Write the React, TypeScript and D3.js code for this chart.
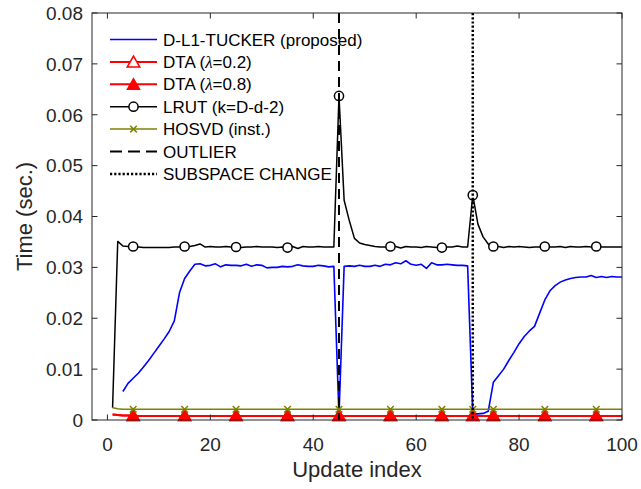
import React from 'react';
import * as d3 from 'd3';

// ---------- data ----------
const updateIndex: number[] = d3.range(1, 101);
const markerIndex = [5, 15, 25, 35, 45, 55, 65, 71, 75, 85, 95];
const outlierAt = 45;
const subspaceChangeAt = 71;

const dl1Tucker: (number | null)[] = [
  null, null, 0.0056, 0.0072, 0.0082, 0.0092, 0.0104, 0.0117, 0.0131, 0.0145,
  0.0159, 0.0174, 0.0195, 0.0250, 0.0278, 0.0293, 0.0306, 0.0307, 0.0303, 0.0304,
  0.0307, 0.0301, 0.0305, 0.0304, 0.0304, 0.0303, 0.0306, 0.0302, 0.0305, 0.0304,
  0.0299, 0.0300, 0.0300, 0.0302, 0.0301, 0.0302, 0.0305, 0.0303, 0.0302, 0.0302,
  0.0304, 0.0303, 0.0301, 0.0302, 0.0008, 0.0302, 0.0303, 0.0302, 0.0304, 0.0302,
  0.0302, 0.0304, 0.0302, 0.0306, 0.0305, 0.0309, 0.0307, 0.0313, 0.0306, 0.0304,
  0.0306, 0.0298, 0.0309, 0.0305, 0.0305, 0.0306, 0.0305, 0.0304, 0.0304, 0.0303,
  0.0012, 0.0012, 0.0013, 0.0017, 0.0074, 0.0087, 0.0100, 0.0117, 0.0133, 0.0150,
  0.0164, 0.0175, 0.0184, 0.0210, 0.0236, 0.0254, 0.0264, 0.0271, 0.0275, 0.0278,
  0.0280, 0.0281, 0.0281, 0.0284, 0.0280, 0.0282, 0.0280, 0.0282, 0.0281, 0.0281,
];

const dta02: number[] = [
  0.0011, 0.0010, 0.0009, 0.0009, 0.0008, 0.0008, 0.0008, 0.0008, 0.0008, 0.0008,
  0.0008, 0.0008, 0.0008, 0.0008, 0.0008, 0.0008, 0.0008, 0.0008, 0.0008, 0.0008,
  0.0008, 0.0008, 0.0008, 0.0008, 0.0008, 0.0008, 0.0008, 0.0008, 0.0008, 0.0008,
  0.0008, 0.0008, 0.0008, 0.0008, 0.0008, 0.0008, 0.0008, 0.0008, 0.0008, 0.0008,
  0.0008, 0.0008, 0.0008, 0.0008, 0.0008, 0.0008, 0.0008, 0.0008, 0.0008, 0.0008,
  0.0008, 0.0008, 0.0008, 0.0008, 0.0008, 0.0008, 0.0008, 0.0008, 0.0008, 0.0008,
  0.0008, 0.0008, 0.0008, 0.0008, 0.0008, 0.0008, 0.0008, 0.0008, 0.0008, 0.0008,
  0.0008, 0.0008, 0.0008, 0.0008, 0.0008, 0.0008, 0.0008, 0.0008, 0.0008, 0.0008,
  0.0008, 0.0008, 0.0008, 0.0008, 0.0008, 0.0008, 0.0008, 0.0008, 0.0008, 0.0008,
  0.0008, 0.0008, 0.0008, 0.0008, 0.0008, 0.0008, 0.0008, 0.0008, 0.0008, 0.0008,
];

const dta08: number[] = [
  0.0011, 0.0010, 0.0009, 0.0009, 0.0008, 0.0008, 0.0008, 0.0008, 0.0008, 0.0008,
  0.0008, 0.0008, 0.0008, 0.0008, 0.0008, 0.0008, 0.0008, 0.0008, 0.0008, 0.0008,
  0.0008, 0.0008, 0.0008, 0.0008, 0.0008, 0.0008, 0.0008, 0.0008, 0.0008, 0.0008,
  0.0008, 0.0008, 0.0008, 0.0008, 0.0008, 0.0008, 0.0008, 0.0008, 0.0008, 0.0008,
  0.0008, 0.0008, 0.0008, 0.0008, 0.0008, 0.0008, 0.0008, 0.0008, 0.0008, 0.0008,
  0.0008, 0.0008, 0.0008, 0.0008, 0.0008, 0.0008, 0.0008, 0.0008, 0.0008, 0.0008,
  0.0008, 0.0008, 0.0008, 0.0008, 0.0008, 0.0008, 0.0008, 0.0008, 0.0008, 0.0008,
  0.0008, 0.0008, 0.0008, 0.0008, 0.0008, 0.0008, 0.0008, 0.0008, 0.0008, 0.0008,
  0.0008, 0.0008, 0.0008, 0.0008, 0.0008, 0.0008, 0.0008, 0.0008, 0.0008, 0.0008,
  0.0008, 0.0008, 0.0008, 0.0008, 0.0008, 0.0008, 0.0008, 0.0008, 0.0008, 0.0008,
];

const lrut: number[] = [
  0.0024, 0.0351, 0.0342, 0.0341, 0.0341, 0.0340, 0.0339, 0.0339, 0.0339, 0.0339,
  0.0339, 0.0339, 0.0340, 0.0340, 0.0341, 0.0341, 0.0343, 0.0346, 0.0340, 0.0341,
  0.0340, 0.0340, 0.0341, 0.0340, 0.0340, 0.0339, 0.0340, 0.0340, 0.0341, 0.0340,
  0.0340, 0.0340, 0.0339, 0.0340, 0.0339, 0.0341, 0.0337, 0.0341, 0.0340, 0.0340,
  0.0341, 0.0340, 0.0340, 0.0340, 0.0637, 0.0432, 0.0392, 0.0357, 0.0348, 0.0345,
  0.0343, 0.0341, 0.0340, 0.0340, 0.0341, 0.0341, 0.0338, 0.0341, 0.0340, 0.0340,
  0.0339, 0.0341, 0.0340, 0.0339, 0.0339, 0.0340, 0.0340, 0.0342, 0.0340, 0.0340,
  0.0442, 0.0385, 0.0360, 0.0346, 0.0341, 0.0341, 0.0339, 0.0341, 0.0340, 0.0341,
  0.0340, 0.0339, 0.0340, 0.0340, 0.0341, 0.0340, 0.0340, 0.0341, 0.0339, 0.0341,
  0.0340, 0.0340, 0.0341, 0.0340, 0.0341, 0.0340, 0.0340, 0.0340, 0.0340, 0.0340,
];

const hosvd: number[] = [
  0.0024, 0.0022, 0.0021, 0.0021, 0.0021, 0.0021, 0.0021, 0.0021, 0.0021, 0.0021,
  0.0021, 0.0021, 0.0021, 0.0021, 0.0021, 0.0021, 0.0021, 0.0021, 0.0021, 0.0021,
  0.0021, 0.0021, 0.0021, 0.0021, 0.0021, 0.0021, 0.0021, 0.0021, 0.0021, 0.0021,
  0.0021, 0.0021, 0.0021, 0.0021, 0.0021, 0.0021, 0.0021, 0.0021, 0.0021, 0.0021,
  0.0021, 0.0021, 0.0021, 0.0021, 0.0021, 0.0021, 0.0021, 0.0021, 0.0021, 0.0021,
  0.0021, 0.0021, 0.0021, 0.0021, 0.0021, 0.0021, 0.0021, 0.0021, 0.0021, 0.0021,
  0.0021, 0.0021, 0.0021, 0.0021, 0.0021, 0.0021, 0.0021, 0.0021, 0.0021, 0.0021,
  0.0021, 0.0021, 0.0021, 0.0021, 0.0021, 0.0021, 0.0021, 0.0021, 0.0021, 0.0021,
  0.0021, 0.0021, 0.0021, 0.0021, 0.0021, 0.0021, 0.0021, 0.0021, 0.0021, 0.0021,
  0.0021, 0.0021, 0.0021, 0.0021, 0.0021, 0.0021, 0.0021, 0.0021, 0.0021, 0.0021,
];

const xTicks = [0, 20, 40, 60, 80, 100];
const yTicks = [0, 0.01, 0.02, 0.03, 0.04, 0.05, 0.06, 0.07, 0.08];
const xDomain: [number, number] = [-3, 100];
const yDomain: [number, number] = [0, 0.08];

// ---------- layout ----------
const W = 641;
const H = 489;
const L = 92, R = 622, T = 13, B = 420;
const AX = '#262626';
const FONT = '"Liberation Sans", Arial, Helvetica, sans-serif';
const BLUE = '#0000ff';
const RED = '#ff0000';
const OLIVE = '#808000';

const x = d3.scaleLinear().domain(xDomain).range([L, R]);
const y = d3.scaleLinear().domain(yDomain).range([B, T]);

function pathOf(values: (number | null)[]) {
  const line = d3
    .line<number>()
    .defined((i) => values[i] !== null && values[i] !== undefined)
    .x((i) => x(updateIndex[i]))
    .y((i) => y(values[i] as number));
  return line(d3.range(values.length)) || '';
}

const tri = (cx: number, cy: number, s = 1) =>
  `M${cx},${cy - 6.3 * s}L${cx + 6.3 * s},${cy + 4.6 * s}L${cx - 6.3 * s},${cy + 4.6 * s}Z`;

function Cross({ cx, cy }: { cx: number; cy: number }) {
  const r = 3.3;
  return (
    <g stroke={OLIVE} strokeWidth={1.5}>
      <line x1={cx - r} y1={cy - r} x2={cx + r} y2={cy + r} />
      <line x1={cx - r} y1={cy + r} x2={cx + r} y2={cy - r} />
    </g>
  );
}

const Lam = () => (
  <tspan fontFamily='"Liberation Serif", "Times New Roman", serif' fontStyle="italic">
    λ
  </tspan>
);

export default function App() {
  const mx = (i: number) => x(i);
  const valAt = (arr: (number | null)[], i: number) => arr[updateIndex.indexOf(i)] as number;

  const legendX1 = 110, legendX2 = 157, legendTx = 163, legendY0 = 39.5, legendDy = 22.4;
  const lmx = (legendX1 + legendX2) / 2;

  return (
    <svg
      width={W}
      height={H}
      style={{ position: 'absolute', left: 0, top: 0, background: '#fff' }}
      fontFamily={FONT}
    >
      <defs>
        <clipPath id="plotClip">
          <rect x={L} y={T} width={R - L} height={B - T} />
        </clipPath>
      </defs>
      <rect x={0} y={0} width={W} height={H} fill="#fff" />

      {/* data lines */}
      <g clipPath="url(#plotClip)" fill="none" strokeLinejoin="round">
        <path d={pathOf(dl1Tucker)} stroke={BLUE} strokeWidth={1.6} />
        <path d={pathOf(dta02)} stroke={RED} strokeWidth={2} />
        <path d={pathOf(dta08)} stroke={RED} strokeWidth={2} />
        <path d={pathOf(lrut)} stroke="#000" strokeWidth={1.5} />
        <path d={pathOf(hosvd)} stroke={OLIVE} strokeWidth={1.5} />
      </g>

      {/* markers */}
      <g>
        {markerIndex.map((i) => (
          <path key={'a' + i} d={tri(mx(i), y(valAt(dta02, i)))} fill="#fff" stroke={RED} strokeWidth={1.2} />
        ))}
        {markerIndex.map((i) => (
          <path key={'b' + i} d={tri(mx(i), y(valAt(dta08, i)))} fill={RED} stroke={RED} strokeWidth={1.2} />
        ))}
        {markerIndex.map((i) => (
          <circle key={'c' + i} cx={mx(i)} cy={y(valAt(lrut, i))} r={4.6} fill="#fff" stroke="#000" strokeWidth={1.5} />
        ))}
        {markerIndex.map((i) => (
          <Cross key={'d' + i} cx={mx(i)} cy={y(valAt(hosvd, i))} />
        ))}
      </g>

      {/* event lines */}
      <line x1={x(outlierAt)} x2={x(outlierAt)} y1={T} y2={B} stroke="#000" strokeWidth={2} strokeDasharray="10,6" />
      <line x1={x(subspaceChangeAt)} x2={x(subspaceChangeAt)} y1={T} y2={B} stroke="#000" strokeWidth={2.5} strokeDasharray="2.2,2" />

      {/* axes box */}
      <rect x={L} y={T} width={R - L} height={B - T} fill="none" stroke={AX} strokeWidth={1} />
      <g stroke={AX} strokeWidth={1}>
        {xTicks.map((t) => (
          <g key={'xt' + t}>
            <line x1={x(t)} x2={x(t)} y1={B} y2={B - 5.5} />
            <line x1={x(t)} x2={x(t)} y1={T} y2={T + 5.5} />
          </g>
        ))}
        {yTicks.map((t) => (
          <g key={'yt' + t}>
            <line x1={L} x2={L + 5.5} y1={y(t)} y2={y(t)} />
            <line x1={R} x2={R - 5.5} y1={y(t)} y2={y(t)} />
          </g>
        ))}
      </g>
      <g fill={AX} fontSize={19}>
        {xTicks.map((t) => (
          <text key={'xl' + t} x={x(t)} y={B + 30.5} textAnchor="middle">
            {t}
          </text>
        ))}
        {yTicks.map((t) => (
          <text key={'yl' + t} x={L - 9} y={y(t)} dy="0.36em" textAnchor="end">
            {t === 0 ? '0' : t.toFixed(2)}
          </text>
        ))}
      </g>
      <text x={(L + R) / 2} y={477} textAnchor="middle" fontSize={22} fill={AX}>
        Update index
      </text>
      <text
        transform={`translate(32,${(T + B) / 2}) rotate(-90)`}
        textAnchor="middle"
        fontSize={22}
        fill={AX}
      >
        Time (sec.)
      </text>

      {/* legend */}
      <g fontSize={17} fill="#000">
        {/* 1 */}
        <line x1={legendX1} x2={legendX2} y1={legendY0} y2={legendY0} stroke={BLUE} strokeWidth={1.6} />
        <text x={legendTx} y={legendY0} dy="0.36em">D-L1-TUCKER (proposed)</text>
        {/* 2 */}
        <line x1={legendX1} x2={legendX2} y1={legendY0 + legendDy} y2={legendY0 + legendDy} stroke={RED} strokeWidth={2} />
        <path d={tri(lmx, legendY0 + legendDy + 0.5)} fill="#fff" stroke={RED} strokeWidth={1.5} />
        <text x={legendTx} y={legendY0 + legendDy} dy="0.36em">
          DTA (<Lam />=0.2)
        </text>
        {/* 3 */}
        <line x1={legendX1} x2={legendX2} y1={legendY0 + 2 * legendDy} y2={legendY0 + 2 * legendDy} stroke={RED} strokeWidth={2} />
        <path d={tri(lmx, legendY0 + 2 * legendDy + 0.5)} fill={RED} stroke={RED} strokeWidth={1.2} />
        <text x={legendTx} y={legendY0 + 2 * legendDy} dy="0.36em">
          DTA (<Lam />=0.8)
        </text>
        {/* 4 */}
        <line x1={legendX1} x2={legendX2} y1={legendY0 + 3 * legendDy} y2={legendY0 + 3 * legendDy} stroke="#000" strokeWidth={1.5} />
        <circle cx={lmx} cy={legendY0 + 3 * legendDy} r={4.6} fill="#fff" stroke="#000" strokeWidth={1.5} />
        <text x={legendTx} y={legendY0 + 3 * legendDy} dy="0.36em">LRUT (k=D-d-2)</text>
        {/* 5 */}
        <line x1={legendX1} x2={legendX2} y1={legendY0 + 4 * legendDy} y2={legendY0 + 4 * legendDy} stroke={OLIVE} strokeWidth={1.5} />
        <Cross cx={lmx} cy={legendY0 + 4 * legendDy} />
        <text x={legendTx} y={legendY0 + 4 * legendDy} dy="0.36em">HOSVD (inst.)</text>
        {/* 6 */}
        <line x1={legendX1} x2={legendX2} y1={legendY0 + 5 * legendDy} y2={legendY0 + 5 * legendDy} stroke="#000" strokeWidth={2} strokeDasharray="12,6" />
        <text x={legendTx} y={legendY0 + 5 * legendDy} dy="0.36em">OUTLIER</text>
        {/* 7 */}
        <line x1={legendX1} x2={legendX2} y1={legendY0 + 6 * legendDy} y2={legendY0 + 6 * legendDy} stroke="#000" strokeWidth={2.5} strokeDasharray="2.2,2" />
        <text x={legendTx} y={legendY0 + 6 * legendDy} dy="0.36em">SUBSPACE CHANGE</text>
      </g>
    </svg>
  );
}
